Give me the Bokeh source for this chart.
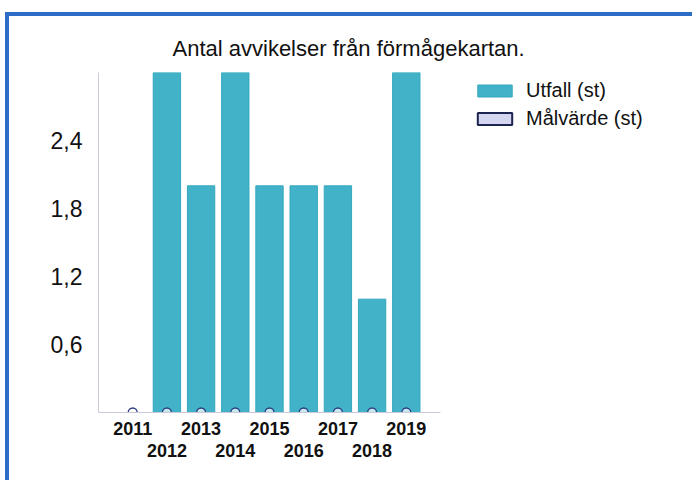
from bokeh.plotting import figure
from bokeh.models import (LinearAxis, FixedTicker, Range1d, Legend, LegendItem,
                          ColumnDataSource, Title)
from bokeh.embed import file_html
from bokeh.resources import INLINE

years = [2011, 2012, 2013, 2014, 2015, 2016, 2017, 2018, 2019]
utfall = [0, 3, 2, 3, 2, 2, 2, 1, 3]
malvarde = [0, 0, 0, 0, 0, 0, 0, 0, 0]
y_ticks = [0.6, 1.2, 1.8, 2.4]
y_tick_labels = ["0,6", "1,2", "1,8", "2,4"]
title_text = "Antal avvikelser från förmågekartan."
series_names = ["Utfall (st)", "Målvärde (st)"]

FONT = "Liberation Sans"
BAR = "#41b2c8"
BAR_LINE = "#34a8bf"
LAV = "#d3d6ee"
NAVY = "#1c2450"
AXIS = "#c9c9d9"
TXT = "#111111"

p = figure(frame_width=342, frame_height=340, output_backend="svg",
           toolbar_location=None, x_range=Range1d(min(years) - 1, max(years) + 1),
           y_range=Range1d(0, 3), min_border_left=89, min_border_top=56,
           min_border_right=249, min_border_bottom=68, title=None)
p.styles = {"border-top": "4px solid #2c6cc6", "border-left": "4px solid #2c6cc6",
            "margin-top": "12px", "margin-left": "5px"}
p.outline_line_color = None
p.grid.visible = False
p.background_fill_color = "white"

src = ColumnDataSource(dict(x=years, utfall=utfall, mal=malvarde))
bars = p.vbar(x="x", top="utfall", width=0.8, source=src, fill_color=BAR,
              line_color=BAR_LINE)
p.scatter(x="x", y="mal", source=src, size=9, fill_color="white", fill_alpha=0.7,
          line_color="#2d3c82", line_width=1.3)
# Målvärde series drawn as zero-size bars (only its legend swatch shows)
mal_bars = p.vbar(x="x", top="mal", width=0, source=src, fill_color=LAV,
                  line_color=NAVY, line_width=2)

# y axis
ya = p.yaxis[0]
ya.ticker = FixedTicker(ticks=y_ticks)
ya.major_label_overrides = {t: l for t, l in zip(y_ticks, y_tick_labels)}
ya.axis_line_color = AXIS
ya.major_tick_line_color = None
ya.minor_tick_line_color = None
ya.major_label_text_font = FONT
ya.major_label_text_font_size = "23px"
ya.major_label_text_color = TXT
ya.major_label_standoff = 10

# x axis: staggered labels in two rows
odd = years[0::2]
even = years[1::2]
xa = p.xaxis[0]
xa.ticker = FixedTicker(ticks=odd)
xa.major_label_overrides = {y: str(y) for y in odd}
xa.axis_line_color = AXIS
xa.major_tick_line_color = None
xa.minor_tick_line_color = None
xa.major_label_standoff = 3

xb = LinearAxis(ticker=FixedTicker(ticks=even),
                major_label_overrides={y: str(y) for y in even})
xb.axis_line_color = None
xb.major_tick_line_color = None
xb.minor_tick_line_color = None
xb.major_label_standoff = 0
p.add_layout(xb, "below")
for ax in [xa, xb]:
    ax.major_label_text_font = FONT
    ax.major_label_text_font_size = "18px"
    ax.major_label_text_font_style = "bold"
    ax.major_label_text_color = TXT

t = Title(text=title_text, align="left", offset=74, standoff=23,
          text_font=FONT, text_font_size="22px", text_font_style="normal",
          text_color=TXT)
p.add_layout(t, "above")

legend = Legend(items=[LegendItem(label=series_names[0], renderers=[bars]),
                       LegendItem(label=series_names[1], renderers=[mal_bars])],
                location=(33, 282), margin=0, padding=0, spacing=5,
                glyph_width=43, glyph_height=15, label_height=22,
                label_text_font=FONT, label_text_font_size="20px",
                label_text_color=TXT, label_standoff=10,
                border_line_color=None, background_fill_alpha=0)
p.add_layout(legend, "right")

open("out.html", "w").write(file_html(p, INLINE))
